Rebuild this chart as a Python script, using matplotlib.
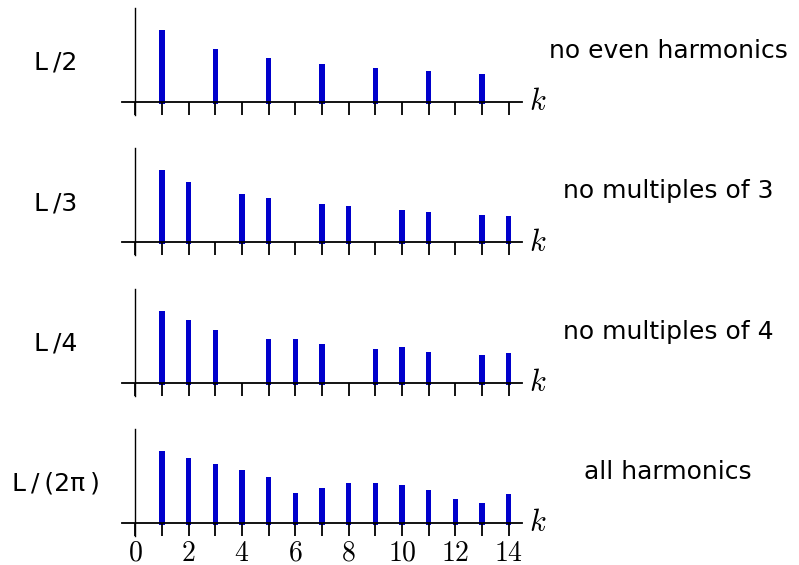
import matplotlib
matplotlib.use("Agg")
import matplotlib.pyplot as plt

plt.rcParams['mathtext.fontset'] = 'cm'
plt.rcParams['font.family'] = 'DejaVu Sans'

# harmonic index and amplitudes for each string pluck position
k_half = [1, 3, 5, 7, 9, 11, 13]
a_half = [74, 55, 46, 40, 36, 33, 30]

k_third = [1, 2, 4, 5, 7, 8, 10, 11, 13, 14]
a_third = [74, 62, 50, 46, 40.3, 38, 34, 32.3, 29.7, 28.3]

k_quarter = [1, 2, 3, 5, 6, 7, 9, 10, 11, 13, 14]
a_quarter = [74, 65, 55, 46, 45.7, 40.3, 36, 37.3, 32.7, 29.7, 31.7]

k_all = [1, 2, 3, 4, 5, 6, 7, 8, 9, 10, 11, 12, 13, 14]
a_all = [74, 67, 61, 55, 48, 32, 37, 42, 42, 40, 35, 26, 22, 31]

left_labels = ['L\u2009/2', 'L\u2009/3', 'L\u2009/4', 'L\u2009/\u2009(2π\u2009)']
right_labels = ['no even harmonics', 'no multiples of 3',
                'no multiples of 4', 'all harmonics']
panels = [(k_half, a_half), (k_third, a_third),
          (k_quarter, a_quarter), (k_all, a_all)]

W, H = 799, 565
fig = plt.figure(figsize=(W / 100, H / 100), dpi=100)

blue = '#0000cc'
for i, (ks, amps) in enumerate(panels):
    yb = 102 + 140.3 * i          # baseline in pixels from top
    ax = fig.add_axes([122 / W, 1 - (yb + 13) / H, 400 / W, 107 / H])
    ax.set_xlim(-0.5, 14.5)
    ax.set_ylim(-13, 94)
    ax.bar(ks, amps, width=0.21, bottom=-2, color=blue)
    for s in ['top', 'right']:
        ax.spines[s].set_visible(False)
    ax.spines['bottom'].set_position(('data', 0))
    ax.spines['left'].set_position(('data', 0))
    ax.spines['bottom'].set_linewidth(1.3)
    ax.spines['left'].set_linewidth(1.0)
    ax.set_yticks([])
    ax.set_xticks(range(0, 15))
    ax.tick_params(axis='x', direction='out', length=9.4, width=1.3,
                   pad=2, labelsize=20)
    if i == 3:
        ax.set_xticklabels(['$%d$' % t if t % 2 == 0 else '' for t in range(15)])
    else:
        ax.set_xticklabels([])
    ax.text(15.08, 0, '$k$', ha='center', va='center', fontsize=22,
            clip_on=False)
    ax.set_facecolor('none')
    fig.text(56 / W, 1 - (yb - 39) / H, left_labels[i], ha='center',
             va='center', fontsize=18)
    fig.text(668 / W, 1 - (yb - 51) / H, right_labels[i], ha='center',
             va='center', fontsize=18)

fig.savefig('out.png', dpi=100)
